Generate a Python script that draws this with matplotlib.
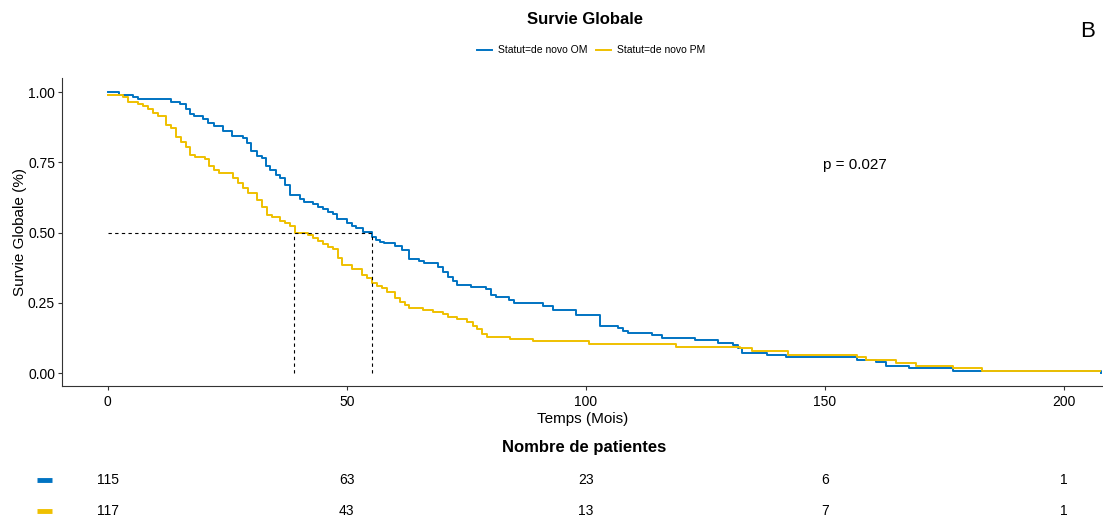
import matplotlib.pyplot as plt

plt.rcParams['font.family'] = ['Liberation Sans', 'DejaVu Sans']

# Kaplan-Meier steps (time in months, survival)
om_time = [0, 2.3, 5.2, 6.3, 13.2, 15.0, 16.3, 17.2, 18.0, 20.0, 21.0, 22.2, 24.0, 26.0,
           28.2, 29.2, 30.0, 31.1, 32.2, 33.0, 34.0, 35.1, 36.0, 37.0, 38.0, 40.2, 41.0,
           43.0, 44.0, 45.0, 46.0, 47.0, 48.0, 50.0, 51.0, 52.0, 53.3, 55.2, 56.1, 57.0,
           57.7, 60.0, 61.5, 63.0, 65.1, 66.1, 69.0, 70.1, 71.1, 72.2, 73.0, 76.0, 79.1,
           80.1, 81.2, 83.9, 85.0, 91.0, 93.1, 97.9, 103.0, 106.7, 107.7, 108.8, 113.8,
           115.9, 122.8, 127.6, 130.8, 131.8, 132.6, 137.9, 141.8, 156.7, 160.7, 162.8,
           167.6, 176.8, 207.8]
om_surv = [1.0, 0.99, 0.983, 0.975, 0.965, 0.957, 0.94, 0.923, 0.915, 0.904, 0.89, 0.879,
           0.861, 0.844, 0.836, 0.818, 0.79, 0.772, 0.765, 0.737, 0.722, 0.705, 0.695,
           0.669, 0.632, 0.619, 0.609, 0.60, 0.592, 0.584, 0.574, 0.566, 0.55, 0.533,
           0.524, 0.516, 0.503, 0.485, 0.473, 0.467, 0.462, 0.452, 0.437, 0.405, 0.398,
           0.392, 0.378, 0.36, 0.342, 0.327, 0.313, 0.306, 0.299, 0.278, 0.27, 0.26,
           0.249, 0.24, 0.223, 0.205, 0.167, 0.159, 0.151, 0.143, 0.135, 0.125, 0.117,
           0.108, 0.10, 0.09, 0.072, 0.064, 0.056, 0.046, 0.038, 0.026, 0.017, 0.008, 0.0]

pm_time = [0, 3.1, 4.2, 6.3, 7.3, 8.4, 9.4, 10.5, 12.1, 13.2, 14.2, 15.3, 16.3, 17.2, 18.2,
           20.3, 21.1, 22.2, 23.2, 26.2, 27.2, 28.2, 29.3, 31.2, 32.2, 33.3, 34.3, 36.0,
           37.0, 38.1, 39.1, 41.8, 42.9, 44.0, 45.0, 46.0, 47.1, 48.1, 49.0, 51.0, 53.1,
           54.2, 55.2, 56.3, 57.3, 58.4, 60.0, 61.1, 62.1, 63.0, 65.9, 68.0, 70.1, 71.1,
           73.0, 75.1, 76.4, 77.2, 78.2, 79.3, 84.1, 88.9, 100.6, 118.8, 132.2, 134.7,
           142.2, 156.7, 158.6, 164.9, 169.0, 176.8, 182.8, 207.5]
pm_surv = [0.991, 0.983, 0.966, 0.957, 0.95, 0.94, 0.924, 0.915, 0.883, 0.871, 0.839,
           0.821, 0.803, 0.776, 0.77, 0.762, 0.737, 0.722, 0.711, 0.693, 0.675, 0.657,
           0.642, 0.616, 0.59, 0.562, 0.554, 0.541, 0.533, 0.524, 0.499, 0.49, 0.479,
           0.47, 0.459, 0.447, 0.44, 0.408, 0.384, 0.369, 0.349, 0.337, 0.319, 0.31,
           0.302, 0.29, 0.266, 0.254, 0.242, 0.232, 0.224, 0.218, 0.21, 0.20, 0.192,
           0.18, 0.167, 0.157, 0.139, 0.129, 0.122, 0.114, 0.103, 0.094, 0.088, 0.078,
           0.064, 0.056, 0.046, 0.037, 0.026, 0.017, 0.008, 0.008]

medians = [39.0, 55.2]
risk_times = [0, 50, 100, 150, 200]
om_risk = [115, 63, 23, 6, 1]
pm_risk = [117, 43, 13, 7, 1]
labels = ['Statut=de novo OM', 'Statut=de novo PM']
colors = ['#0073C2', '#EFC000']

fig = plt.figure(figsize=(11.03, 5.17), dpi=100)
ax = fig.add_axes([0.0562, 0.2534, 0.9438, 0.5957])

ax.step(om_time, om_surv, where='post', color=colors[0], lw=1.4, label=labels[0])
ax.step(pm_time, pm_surv, where='post', color=colors[1], lw=1.4, label=labels[1])

# median survival lines
ax.plot([0, max(medians)], [0.5, 0.5], color='black', lw=0.8, ls=(0, (3, 3)))
for m in medians:
    ax.plot([m, m], [0, 0.5], color='black', lw=0.8, ls=(0, (3, 3)))

ax.set_xlim(-9.6, 208.2)
ax.set_ylim(-0.046, 1.05)
ax.set_xticks([0, 50, 100, 150, 200])
ax.set_yticks([0, 0.25, 0.5, 0.75, 1.0])
ax.set_yticklabels(['0.00', '0.25', '0.50', '0.75', '1.00'])
ax.tick_params(labelsize=10, colors='#333333', length=3)
ax.tick_params(axis='y', pad=2)
ax.tick_params(labelcolor='black')
for s in ['top', 'right']:
    ax.spines[s].set_visible(False)
for s in ['left', 'bottom']:
    ax.spines[s].set_color('#333333')
ax.set_xlabel('Temps (Mois)', fontsize=11, labelpad=2)
ax.set_ylabel('Survie Globale (%)', fontsize=11, labelpad=1)
ax.text(156.3, 0.74, 'p = 0.027', fontsize=11, ha='center', va='center')

fig.text(0.53, 0.963, 'Survie Globale', fontsize=12, fontweight='bold', ha='center', va='center')
fig.text(0.986, 0.94, 'B', fontsize=16, ha='center', va='center')
fig.legend(loc='center', bbox_to_anchor=(0.536, 0.903), ncol=2, frameon=False,
           fontsize=7.5, handlelength=1.4, columnspacing=0.8, handletextpad=0.6)

# risk table
rt = fig.add_axes([0.0562, 0.0, 0.9438, 0.11])
rt.set_xlim(ax.get_xlim())
rt.set_ylim(0, 1)
rt.axis('off')
rows = [(om_risk, 0.65, colors[0]), (pm_risk, 0.1, colors[1])]
for vals, y, c in rows:
    rt.plot([-14.9, -11.6], [y, y], color=c, lw=3.5, solid_capstyle='butt', clip_on=False)
    for t, v in zip(risk_times, vals):
        rt.text(t, y, str(v), fontsize=10, ha='center', va='center')
fig.text(0.53, 0.135, 'Nombre de patientes', fontsize=12, fontweight='bold', ha='center', va='center')

fig.savefig('out.png', dpi=100)
